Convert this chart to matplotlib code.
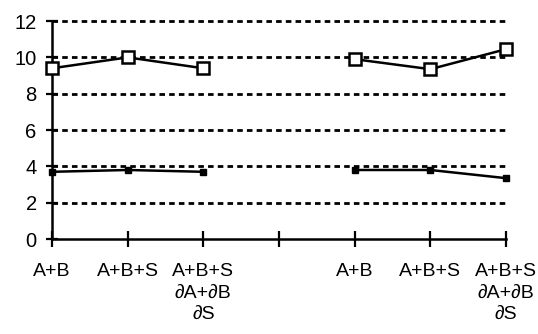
import numpy as np
import matplotlib
matplotlib.use('Agg')
import matplotlib.pyplot as plt

# data, position 3 left empty
pos_left = [0, 1, 2]
pos_right = [4, 5, 6]
open_left = [9.4, 10.0, 9.4]
open_right = [9.9, 9.35, 10.45]
filled_left = [3.7, 3.8, 3.7]
filled_right = [3.8, 3.8, 3.35]
xlabels = ['A+B', 'A+B+S', 'A+B+S\n∂A+∂B\n∂S', '',
           'A+B', 'A+B+S', 'A+B+S\n∂A+∂B\n∂S']
yticks = [0, 2, 4, 6, 8, 10, 12]

plt.rcParams['font.family'] = ['Liberation Sans', 'DejaVu Sans']

fig = plt.figure(figsize=(5.38, 3.34), dpi=100)
ax = fig.add_axes([0.0967, 0.2844, 0.8438, 0.6526])

for y in yticks[1:]:
    ax.axhline(y, color='black', lw=2.0, ls=(0, (2.0, 1.5)), zorder=1)

for xs, ys in [(pos_left, open_left), (pos_right, open_right)]:
    ax.plot(xs, ys, color='black', lw=1.8, marker='s', ms=9,
            mfc='white', mec='black', mew=1.8, zorder=3)
for xs, ys in [(pos_left, filled_left), (pos_right, filled_right)]:
    ax.plot(xs, ys, color='black', lw=1.8, marker='s', ms=5,
            mfc='black', mec='black', zorder=3)

ax.set_xlim(0, 6)
ax.set_ylim(0, 12)
ax.set_xticks(range(7))
ax.set_xticklabels(xlabels, fontsize=14, linespacing=1.33, va='top')
ax.set_yticks(yticks)
ax.set_yticklabels([str(v) for v in yticks], fontsize=14.5)
ax.tick_params(axis='y', direction='inout', length=8, width=1.6, pad=7)
ax.tick_params(axis='x', direction='inout', length=11, width=1.6, pad=12)

for s in ['top', 'right']:
    ax.spines[s].set_visible(False)
for s in ['left', 'bottom']:
    ax.spines[s].set_linewidth(1.8)

for ln in ax.lines:
    ln.set_clip_on(False)

fig.savefig('out.png', dpi=100)
